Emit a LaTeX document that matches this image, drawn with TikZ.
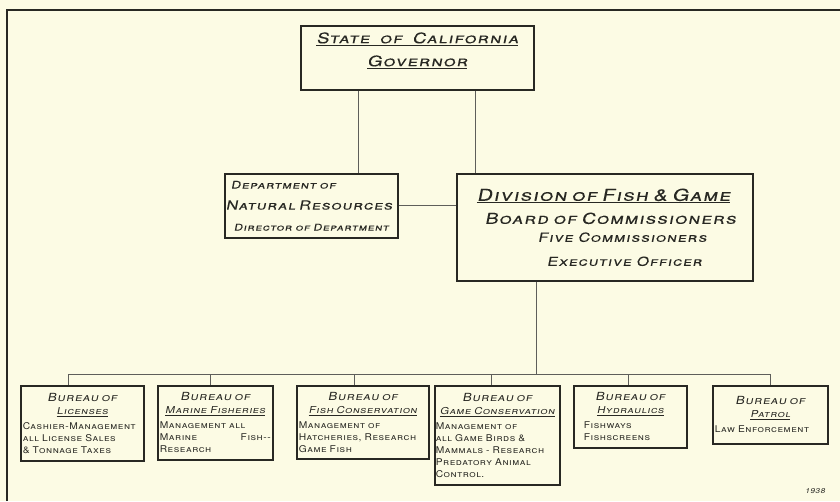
\documentclass[tikz,border=0pt]{standalone}
\usepackage{fontspec}
\setmainfont{TeX Gyre Heros}
\newfontfamily\hand{TeX Gyre Heros}[Letters=SmallCaps,FakeStretch=1.1,LetterSpace=6,WordSpace=1.4]
\newfontfamily\handit{TeX Gyre Heros}[Letters=SmallCaps,FakeSlant=0.2,FakeStretch=1.2,LetterSpace=6,WordSpace=1.5]
\newfontfamily\handwide{TeX Gyre Heros}[Letters=SmallCaps,FakeSlant=0.2,FakeStretch=1.3,FakeBold=0.05,LetterSpace=8,WordSpace=1.6]
\usetikzlibrary{positioning,calc}
\definecolor{paper}{RGB}{252,251,228}
\definecolor{ink}{RGB}{40,40,35}
\newcommand{\bureauhead}[1]{{\centering\handit\fontsize{11.2}{13}\selectfont Bureau of\\
  {\fontsize{9.5}{13}\selectfont\underline{#1}}\par}\vspace{3pt}}

\begin{document}
\begin{tikzpicture}[x=1pt,y=-1pt]
\tikzstyle{office} = [draw=ink, line width=1.6pt, anchor=north west, inner sep=0pt, text=ink];
\tikzstyle{bureau} = [office, font=\hand\fontsize{9.3}{12}\selectfont];
\tikzstyle{link} = [draw=ink!75, line width=0.8pt];

\fill[paper] (0,0) rectangle (840,501);
\useasboundingbox (0,0) rectangle (840,501);

% sheet border
\draw[ink, line width=1.4pt] (7,501) -- (7,10) -- (840,10);

% top offices
\node[office, minimum width=233pt, minimum height=64pt, align=center,
  font=\handwide\fontsize{14.5}{23}\selectfont] (gov) at (300,25)
  {\underline{State of California}\\ \underline{Governor}\\[-6pt]\mbox{}};
\node[office, minimum width=173pt, minimum height=64pt, text width=171pt, align=left,
  font=\handwide\fontsize{10.5}{21}\selectfont] (dep) at (224,173)
  {\hspace*{5pt}Department of\\ \mbox{\fontsize{12.5}{14}\selectfont Natural Resources}\\
   \mbox{\fontsize{9.3}{14}\selectfont\hspace*{8pt}Director of Department}};
\node[office, minimum width=296pt, minimum height=107pt, text width=284pt, align=left,
  font=\handwide\fontsize{15}{18}\selectfont] (div) at (456,173)
  {\hspace*{14pt}{\fontsize{16.3}{18}\selectfont\underline{Division of Fish \& Game}}\\[5pt]
   \hspace*{22pt}Board of Commissioners\\
   {\fontsize{12.5}{14}\selectfont\hspace*{75pt}Five Commissioners}\\[6pt]
   {\fontsize{12.3}{14}\selectfont\hspace*{84pt}Executive Officer}};

% bureaus
\node[bureau, minimum width=123pt, minimum height=75pt, text width=119pt] (lic) at (20,385)
  {\bureauhead{Licenses}Cashier-Management\\ all License Sales\\ \& Tonnage Taxes};
\node[bureau, minimum width=115pt, minimum height=74pt, text width=111pt] (mar) at (157,385)
  {\bureauhead{Marine Fisheries}Management all\\ Marine\hfill Fish--\\ Research\\[10pt]};
\node[bureau, minimum width=132pt, minimum height=73pt, text width=128pt] (fish) at (296,385)
  {\bureauhead{Fish Conservation}Management of\\ Hatcheries, Research\\ Game Fish\\[10pt]};
\node[bureau, minimum width=125pt, minimum height=99pt, text width=123pt] (game) at (434,385)
  {\bureauhead{Game Conservation}Management of\\ all Game Birds \&\\ Mammals - Research\\
   Predatory Animal\\ Control.};
\node[bureau, minimum width=113pt, minimum height=62pt, text width=105pt] (hyd) at (573,385)
  {\bureauhead{Hydraulics}\hspace*{6pt}Fishways\\ \hspace*{6pt}Fishscreens};
\node[bureau, minimum width=115pt, minimum height=58pt, text width=111pt] (pat) at (712,385)
  {\bureauhead{Patrol}Law Enforcement\\[30pt]};

\node[text=ink, font=\handit\fontsize{7}{8}\selectfont] (year) at (815,491) {1938};

% connectors
\coordinate (govdep) at (358,0);
\coordinate (govdiv) at (475,0);
\draw[link] (gov.south -| govdep) -- (dep.north -| govdep);
\draw[link] (gov.south -| govdiv) -- (div.north -| govdiv);
\draw[link] (dep.east) -- (dep.east -| div.west);

\coordinate (bmid) at (536,374);
\coordinate (b1) at (68,374);
\coordinate (b2) at (210,374);
\coordinate (b3) at (354,374);
\coordinate (b4) at (491,374);
\coordinate (b5) at (628,374);
\coordinate (b6) at (770,374);
\draw[link] (div.south -| bmid) -- (bmid);
\draw[link] (b1) -- (b6);
\draw[link] (b1) -- (b1 |- lic.north);
\draw[link] (b2) -- (b2 |- mar.north);
\draw[link] (b3) -- (b3 |- fish.north);
\draw[link] (b4) -- (b4 |- game.north);
\draw[link] (b5) -- (b5 |- hyd.north);
\draw[link] (b6) -- (b6 |- pat.north);
\end{tikzpicture}
\end{document}
